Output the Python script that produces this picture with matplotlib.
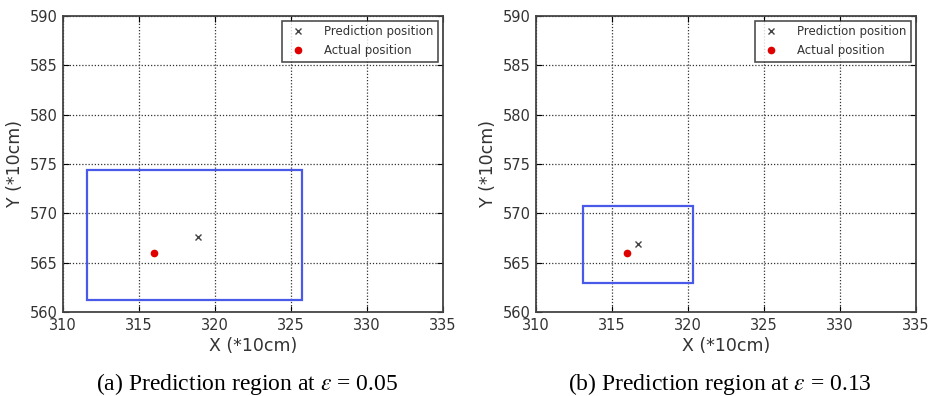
import matplotlib
matplotlib.use("Agg")
import matplotlib.pyplot as plt
from matplotlib.patches import Rectangle

# Data
panels = ["a", "b"]
epsilons = ["0.05", "0.13"]
pred_x = [318.9, 316.7]
pred_y = [567.6, 566.9]
actual_x = [316.0, 316.0]
actual_y = [566.0, 566.0]
region_x0 = [311.6, 313.1]
region_x1 = [325.7, 320.3]
region_y0 = [561.2, 562.9]
region_y1 = [574.4, 570.7]
x_ticks = [310, 315, 320, 325, 330, 335]
y_ticks = [560, 565, 570, 575, 580, 585, 590]

plt.rcParams['mathtext.fontset'] = 'stix'
fig = plt.figure(figsize=(9.33, 3.96), dpi=100)
W, H = 933, 396
lefts = [63, 536]
for i in range(2):
    ax = fig.add_axes([lefts[i] / W, (H - 312) / H, 380 / W, 296 / H])
    ax.plot([pred_x[i]], [pred_y[i]], linestyle='none', marker='x', color='#444444',
            markersize=4, markeredgewidth=1, label='Prediction position')
    ax.plot([actual_x[i]], [actual_y[i]], linestyle='none', marker='o', color='#e00000',
            markersize=4.5, label='Actual position')
    ax.add_patch(Rectangle((region_x0[i], region_y0[i]), region_x1[i] - region_x0[i],
                           region_y1[i] - region_y0[i], fill=False,
                           edgecolor='#4a5ae8', linewidth=1.6))
    ax.set_xlim(310, 335)
    ax.set_ylim(560, 590)
    ax.set_xticks(x_ticks)
    ax.set_yticks(y_ticks)
    ax.grid(True, color='#333333', linestyle=(0, (1, 1.5)), linewidth=0.9)
    ax.set_axisbelow(True)
    ax.tick_params(direction='in', top=True, right=True, labelsize=10.5,
                   labelcolor='#333333', length=4, pad=4)
    for s in ax.spines.values():
        s.set_linewidth(1.3)
        s.set_color('#444444')
    ax.set_xlabel('X (*10cm)', fontsize=12.5, color='#333333', labelpad=3)
    ax.set_ylabel('Y (*10cm)', fontsize=12.5, color='#333333', labelpad=4)
    leg = ax.legend(loc='upper right', fontsize=8.5, frameon=True, fancybox=False,
                    borderpad=0.4, labelspacing=0.5, handletextpad=1.2,
                    borderaxespad=0.4, numpoints=1)
    leg.get_frame().set_edgecolor('#222222')
    leg.get_frame().set_linewidth(1.2)
    for t in leg.get_texts():
        t.set_color('#333333')
    cx = (lefts[i] + 184) / W
    fig.text(cx, 1 - 384 / H, '(%s) Prediction region at $\\varepsilon$ = %s' % (panels[i], epsilons[i]),
             ha='center', va='center', fontsize=17, family='Liberation Serif')

fig.savefig('out.png', dpi=100)
